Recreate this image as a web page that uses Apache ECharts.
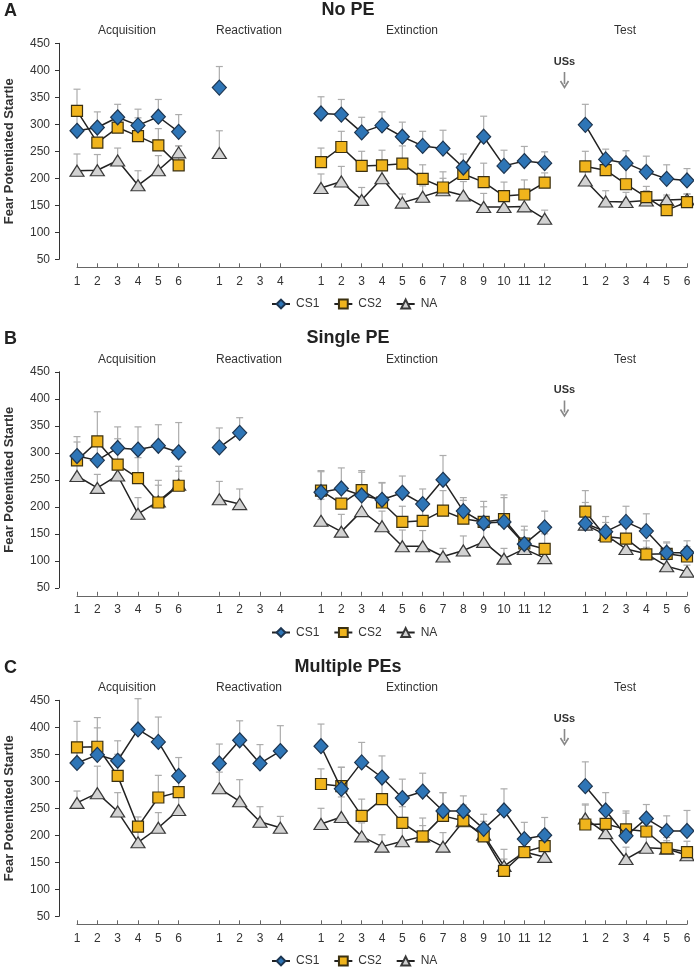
<!DOCTYPE html>
<html>
<head>
<meta charset="utf-8">
<script src="https://cdn.jsdelivr.net/npm/echarts@6/dist/echarts.min.js"></script>
<style>
html,body{margin:0;padding:0;background:#fff;}
#chart{width:694px;height:968px;}
</style>
</head>
<body>
<div id="chart"></div>
<script>
// ---- tick labels (31 slots: Acquisition 1-6, gap, Reactivation 1-4, gap, Extinction 1-12, gap, Test 1-6)
const acqLabels = ['1','2','3','4','5','6'];
const reactLabels = ['1','2','3','4'];
const extLabels = ['1','2','3','4','5','6','7','8','9','10','11','12'];
const testLabels = ['1','2','3','4','5','6'];
const yTicks = [50, 450, 50]; // min, max, interval

const panelLetters = ['A','B','C'];
const panelTitles = ['No PE','Single PE','Multiple PEs'];
const phaseNames = ['Acquisition','Reactivation','Extinction','Test'];
const seriesNames = ['CS1','CS2','NA'];

// ---- Panel A: No PE
const A_CS1_acq = [288, 294, 313, 298, 314, 286];
const A_CS1_acq_err = [27, 29, 24, 30, 32, 32];
const A_CS2_acq = [325, 266, 294, 278, 261, 224];
const A_CS2_acq_err = [40, 25, 27, 34, 31, 36];
const A_NA_acq = [214, 215, 233, 187, 215, 248];
const A_NA_acq_err = [31, 29, 23, 27, 27, 12];
const A_CS1_react = [368, null, null, null];
const A_CS1_react_err = [39, null, null, null];
const A_CS2_react = [null, null, null, null];
const A_CS2_react_err = [null, null, null, null];
const A_NA_react = [247, null, null, null];
const A_NA_react_err = [41, null, null, null];
const A_CS1_ext = [320, 318, 285, 298, 277, 260, 255, 220, 277, 223, 232, 228];
const A_CS1_ext_err = [31, 28, 28, 25, 27, 27, 34, 25, 38, 29, 27, 21];
const A_CS2_ext = [230, 258, 223, 224, 227, 199, 183, 208, 193, 167, 170, 192];
const A_CS2_ext_err = [26, 29, 27, 28, 33, 26, 29, 22, 35, 26, 27, 18];
const A_NA_ext = [182, 194, 160, 200, 155, 166, 178, 168, 147, 147, 148, 125];
const A_NA_ext_err = [26, 28, 23, 25, 16, 20, 22, 26, 25, 29, 28, 16];
const A_CS1_test = [299, 235, 228, 212, 199, 196];
const A_CS1_test_err = [38, 19, 23, 29, 26, 22];
const A_CS2_test = [222, 215, 189, 165, 141, 156];
const A_CS2_test_err = [28, 20, 37, 20, 24, 15];
const A_NA_test = [196, 157, 156, 159, 160, 161];
const A_NA_test_err = [20, 20, 18, 18, 9, 10];

// ---- Panel B: Single PE
const B_CS1_acq = [294, 286, 309, 306, 313, 301];
const B_CS1_acq_err = [36, 35, 39, 42, 39, 55];
const B_CS2_acq = [286, 321, 278, 253, 208, 239];
const B_CS2_acq_err = [34, 55, 48, 38, 41, 36];
const B_NA_acq = [257, 235, 258, 187, 210, 241];
const B_NA_acq_err = [25, 25, 25, 30, 30, 25];
const B_CS1_react = [310, 337, null, null];
const B_CS1_react_err = [36, 28, null, null];
const B_CS2_react = [null, null, null, null];
const B_CS2_react_err = [null, null, null, null];
const B_NA_react = [214, 205, null, null];
const B_NA_react_err = [33, 28, null, null];
const B_CS1_ext = [227, 234, 221, 213, 226, 205, 250, 192, 170, 172, 131, 162];
const B_CS1_ext_err = [40, 38, 43, 31, 31, 28, 45, 25, 40, 50, 33, 30];
const B_CS2_ext = [230, 206, 231, 208, 172, 174, 193, 178, 172, 177, 132, 122];
const B_CS2_ext_err = [35, 30, 36, 37, 29, 33, 37, 34, 28, 40, 25, 28];
const B_NA_ext = [174, 154, 192, 164, 127, 127, 108, 119, 135, 104, 122, 105];
const B_NA_ext_err = [40, 32, 30, 28, 30, 29, 15, 27, 25, 19, 20, 18];
const B_CS1_test = [169, 154, 172, 155, 115, 115];
const B_CS1_test_err = [39, 28, 29, 32, 20, 22];
const B_CS2_test = [191, 145, 141, 112, 113, 108];
const B_CS2_test_err = [39, 26, 30, 25, 20, 18];
const B_NA_test = [167, 148, 122, 113, 90, 80];
const B_NA_test_err = [18, 15, 15, 12, 12, 12];

// ---- Panel C: Multiple PEs
const C_CS1_acq = [334, 349, 338, 396, 373, 310];
const C_CS1_acq_err = [37, 50, 37, 57, 46, 34];
const C_CS2_acq = [363, 364, 310, 216, 270, 280];
const C_CS2_acq_err = [48, 54, 40, 18, 41, 30];
const C_NA_acq = [260, 278, 244, 187, 214, 247];
const C_NA_acq_err = [22, 50, 35, 20, 28, 25];
const C_CS1_react = [333, 376, 333, 356];
const C_CS1_react_err = [36, 36, 35, 47];
const C_CS2_react = [null, null, null, null];
const C_CS2_react_err = [null, null, null, null];
const C_NA_react = [287, 263, 225, 214];
const C_NA_react_err = [30, 40, 28, 21];
const C_CS1_ext = [365, 286, 335, 307, 269, 281, 245, 245, 212, 246, 193, 200];
const C_CS1_ext_err = [41, 40, 37, 40, 35, 34, 34, 28, 27, 40, 31, 33];
const C_CS2_ext = [295, 291, 236, 267, 223, 198, 236, 227, 198, 134, 169, 180];
const C_CS2_ext_err = [28, 35, 31, 33, 30, 34, 43, 20, 28, 40, 25, 30];
const C_NA_ext = [221, 234, 198, 179, 189, 198, 179, 226, 201, 143, 169, 160];
const C_NA_ext_err = [29, 37, 25, 22, 25, 20, 26, 30, 20, 13, 20, 20];
const C_CS1_test = [291, 246, 199, 231, 208, 208];
const C_CS1_test_err = [45, 33, 46, 26, 28, 38];
const C_CS2_test = [220, 221, 211, 207, 176, 169];
const C_CS2_test_err = [38, 30, 30, 25, 20, 20];
const C_NA_test = [231, 204, 156, 177, 175, 163];
const C_NA_test_err = [25, 20, 22, 20, 15, 15];

// ---------------------------------------------------------------
const FONT = "'Liberation Sans', Arial, Helvetica, sans-serif";
const xCats = [].concat(acqLabels, [''], reactLabels, [''], extLabels, [''], testLabels);
function join(a, r, e, t) { return [].concat(a, [null], r, [null], e, [null], t); }

const panels = [
  {
    CS1: [join(A_CS1_acq, A_CS1_react, A_CS1_ext, A_CS1_test), join(A_CS1_acq_err, A_CS1_react_err, A_CS1_ext_err, A_CS1_test_err)],
    CS2: [join(A_CS2_acq, A_CS2_react, A_CS2_ext, A_CS2_test), join(A_CS2_acq_err, A_CS2_react_err, A_CS2_ext_err, A_CS2_test_err)],
    NA:  [join(A_NA_acq, A_NA_react, A_NA_ext, A_NA_test), join(A_NA_acq_err, A_NA_react_err, A_NA_ext_err, A_NA_test_err)]
  },
  {
    CS1: [join(B_CS1_acq, B_CS1_react, B_CS1_ext, B_CS1_test), join(B_CS1_acq_err, B_CS1_react_err, B_CS1_ext_err, B_CS1_test_err)],
    CS2: [join(B_CS2_acq, B_CS2_react, B_CS2_ext, B_CS2_test), join(B_CS2_acq_err, B_CS2_react_err, B_CS2_ext_err, B_CS2_test_err)],
    NA:  [join(B_NA_acq, B_NA_react, B_NA_ext, B_NA_test), join(B_NA_acq_err, B_NA_react_err, B_NA_ext_err, B_NA_test_err)]
  },
  {
    CS1: [join(C_CS1_acq, C_CS1_react, C_CS1_ext, C_CS1_test), join(C_CS1_acq_err, C_CS1_react_err, C_CS1_ext_err, C_CS1_test_err)],
    CS2: [join(C_CS2_acq, C_CS2_react, C_CS2_ext, C_CS2_test), join(C_CS2_acq_err, C_CS2_react_err, C_CS2_ext_err, C_CS2_test_err)],
    NA:  [join(C_NA_acq, C_NA_react, C_NA_ext, C_NA_test), join(C_NA_acq_err, C_NA_react_err, C_NA_ext_err, C_NA_test_err)]
  }
];

const styles = {
  CS1: { symbol: 'diamond', size: [14, 15], fill: '#2e75b6', border: '#1d3550' },
  CS2: { symbol: 'rect', size: 11, fill: '#f0b41c', border: '#3b3010' },
  NA:  { symbol: 'triangle', size: [14, 11], fill: '#d2d2d2', border: '#3a3a3a' }
};

const PANEL_STEP = 328.5;
const GRID_TOP = 43.3;
const GRID_H = 216;

const grids = [], xAxes = [], yAxes = [], series = [], legends = [], graphics = [];

function errRender(params, api) {
  const x = api.value(0), v = api.value(1), e = api.value(2);
  const p0 = api.coord([x, v]);
  const p1 = api.coord([x, v + e]);
  const st = { stroke: '#acacac', lineWidth: 1.2 };
  return {
    type: 'group',
    children: [
      { type: 'line', shape: { x1: p0[0], y1: p0[1], x2: p1[0], y2: p1[1] }, style: st },
      { type: 'line', shape: { x1: p1[0] - 3.5, y1: p1[1], x2: p1[0] + 3.5, y2: p1[1] }, style: st }
    ]
  };
}

for (let p = 0; p < 3; p++) {
  const off = p * PANEL_STEP;
  grids.push({ left: 77, right: 7, top: GRID_TOP + off, height: GRID_H, containLabel: false, outerBoundsMode: 'none' });
  xAxes.push({
    type: 'category', gridIndex: p, data: xCats, boundaryGap: false, offset: 8,
    axisLine: { lineStyle: { color: '#666', width: 1 } },
    axisTick: { inside: true, length: 4, lineStyle: { color: '#666' }, interval: (i, v) => v !== '' },
    axisLabel: { interval: 0, fontSize: 12, color: '#333', fontFamily: FONT, margin: 8 },
    splitLine: { show: false }
  });
  yAxes.push({
    type: 'value', gridIndex: p, min: yTicks[0], max: yTicks[1], interval: yTicks[2], offset: 18,
    name: 'Fear Potentiated Startle', nameLocation: 'middle', nameGap: 43,
    nameTextStyle: { fontSize: 13, fontWeight: 'bold', color: '#333', fontFamily: FONT },
    axisLine: { show: true, lineStyle: { color: '#333', width: 1 } },
    axisTick: { show: true, length: 4, lineStyle: { color: '#333' } },
    axisLabel: { fontSize: 12, color: '#333', fontFamily: FONT, margin: 9 },
    splitLine: { show: false }
  });
  seriesNames.forEach((name) => {
    const d = panels[p][name];
    const errData = [];
    d[0].forEach((v, i) => { if (v != null && d[1][i] != null) errData.push([i, v, d[1][i]]); });
    series.push({
      type: 'custom', name: name + ' SEM', xAxisIndex: p, yAxisIndex: p, z: 1,
      renderItem: errRender, data: errData, encode: { x: 0, y: 1 }, silent: true
    });
  });
  seriesNames.forEach((name) => {
    const d = panels[p][name];
    const st = styles[name];
    series.push({
      type: 'line', name: name, xAxisIndex: p, yAxisIndex: p, z: name === 'CS1' ? 5 : (name === 'CS2' ? 4 : 3),
      data: d[0], connectNulls: false,
      symbol: st.symbol, symbolSize: st.size, showAllSymbol: true,
      lineStyle: { color: '#222', width: 1.5 },
      itemStyle: { color: st.fill, borderColor: st.border, borderWidth: 1.2 },
      emphasis: { disabled: true }, animation: false
    });
  });
  legends.push({
    data: seriesNames, top: 293 + off, left: 266,
    itemWidth: 18, itemHeight: 11, itemGap: 14,
    textStyle: { fontSize: 12, color: '#333', fontFamily: FONT, padding: [0, 0, 0, 1] },
    selectedMode: false
  });
  // Panel letter and title
  graphics.push({ type: 'text', left: 4, top: 2 + off,
    style: { text: panelLetters[p], font: 'bold 18px ' + FONT, fill: '#222' } });
  graphics.push({ type: 'text', x: 348, y: 10 + off,
    style: { text: panelTitles[p], font: 'bold 18px ' + FONT, fill: '#222', align: 'center', verticalAlign: 'middle' } });
  // Phase labels
  const phaseX = [127, 249, 412, 625];
  phaseNames.forEach((n, i) => {
    graphics.push({ type: 'text', x: phaseX[i], y: 31 + off,
      style: { text: n, font: '12px ' + FONT, fill: '#333', align: 'center', verticalAlign: 'middle' } });
  });
  // USs arrow
  graphics.push({ type: 'text', x: 564.5, y: 61.5 + off,
    style: { text: 'USs', font: 'bold 11px ' + FONT, fill: '#333', align: 'center', verticalAlign: 'middle' } });
  graphics.push({ type: 'line', shape: { x1: 564.5, y1: 72 + off, x2: 564.5, y2: 84 + off },
    style: { stroke: '#888', lineWidth: 1.6 } });
  graphics.push({ type: 'polyline', shape: { points: [[560.5, 81 + off], [564.5, 87.5 + off], [568.5, 81 + off]] },
    style: { stroke: '#888', lineWidth: 1.6, fill: null } });
}

const chart = echarts.init(document.getElementById('chart'), null, { renderer: 'canvas' });
chart.setOption({
  animation: false,
  backgroundColor: '#fff',
  textStyle: { fontFamily: FONT },
  grid: grids, xAxis: xAxes, yAxis: yAxes, series: series, legend: legends, graphic: graphics
});
</script>
</body>
</html>
